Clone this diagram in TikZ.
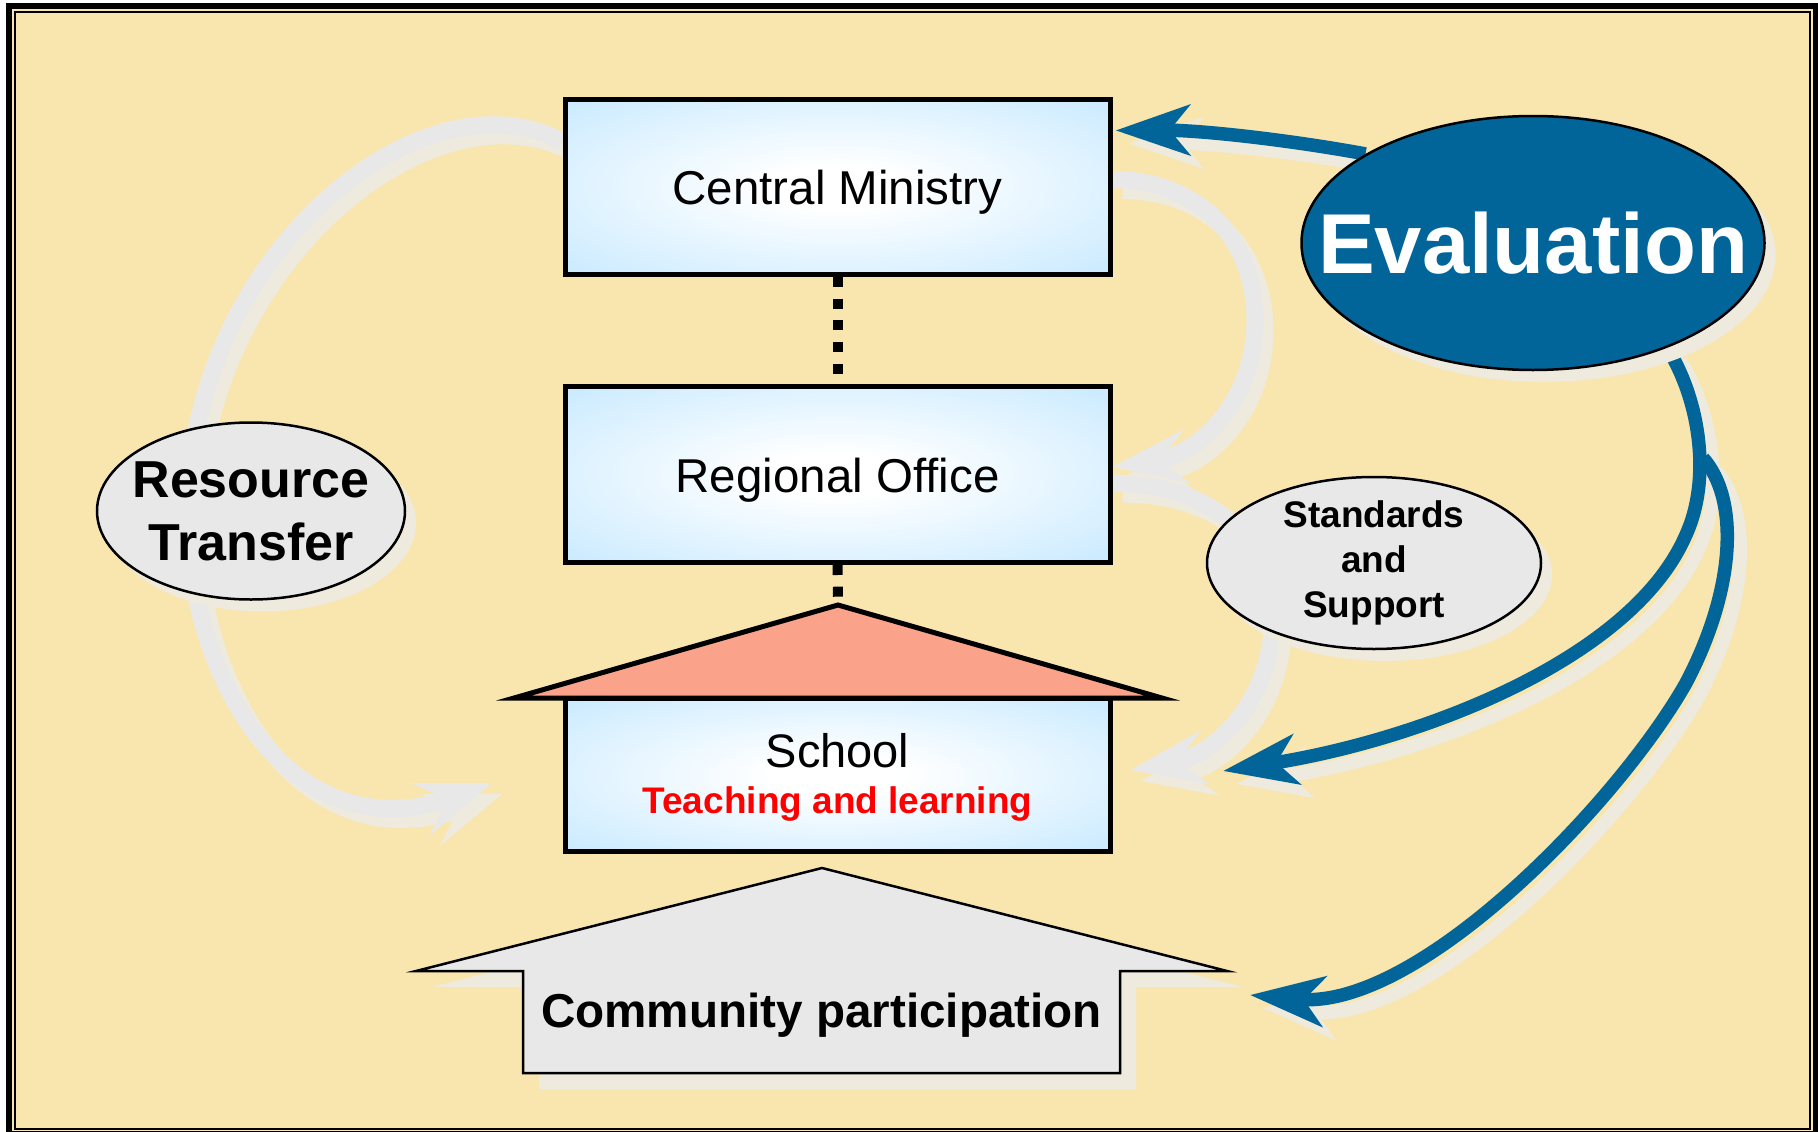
\documentclass[tikz,border=0pt]{standalone}
\usepackage{fontspec}
\setmainfont{Liberation Sans}
\usetikzlibrary{arrows.meta,shapes.geometric,shadows,calc}
\definecolor{bgy}{RGB}{249,230,175}
\definecolor{lb}{RGB}{204,235,255}
\definecolor{evb}{RGB}{2,101,153}
\definecolor{gr}{RGB}{232,232,232}
\definecolor{shd}{RGB}{238,234,221}
\definecolor{roofc}{RGB}{250,163,138}
\definecolor{tred}{RGB}{255,0,0}
\pgfdeclareradialshading{boxglow}{\pgfpoint{0bp}{0bp}}{color(0bp)=(white); color(6bp)=(white); color(34bp)=(lb); color(50bp)=(lb)}
\pgfdeclarelayer{under}
\pgfsetlayers{under,main}
\newcommand\grApath{(astart) .. controls (430,70) and (215,235) .. (190,470) .. controls (170,650) and (280,860) .. (atip)}
\newcommand\grBpath{(bstart) .. controls (1200,180) and (1255,240) .. (1255,320) .. controls (1255,400) and (1200,455) .. (bend)}
\newcommand\grCpath{(cstart) .. controls (1200,483) and (1265,530) .. (1272,600) .. controls (1280,690) and (1220,755) .. (ctip)}
\newcommand\blApath{(ev.152) .. controls (1290,140) and (1200,130) .. (eend)}
\newcommand\blBpath{(ev.-38) .. controls (1700,400) and (1712,480) .. (1685,537) .. controls (1630,660) and (1420,740) .. (btip)}
\newcommand\blCpath{(br) .. controls (1740,500) and (1735,590) .. (1686,683) .. controls (1620,800) and (1420,1010) .. (ctip2)}
\begin{document}
\begin{tikzpicture}[x=1pt,y=-1pt,
  box/.style={draw=black, line width=5pt, shade, shading=boxglow, minimum width=545pt,
    inner sep=0pt, text height=36pt, text depth=0pt, font=\fontsize{47.5}{57}\selectfont},
  ell/.style={ellipse, draw=black, line width=2.5pt, fill=gr, align=center,
    general shadow={fill=shd, shadow xshift=11pt, shadow yshift=-12pt}},
  dotline/.style={line width=10pt, dash pattern=on 10pt off 11.7pt},
  garrow/.style={line width=17pt, -{Stealth[length=75pt, width=54pt, inset=28pt]}},
  barrow/.style={line width=13.5pt, -{Stealth[length=74pt, width=50pt, inset=20pt]}}
]
\useasboundingbox (0,0) rectangle (1818,1132);
\begin{pgfonlayer}{under}
  \fill[white] (0,0) rectangle (1818,1132);
  \fill[black] (6,3) rectangle (1818,1132);
  \fill[bgy] (12,9) rectangle (1813,1130.5);
  \draw[line width=2pt, fill=bgy] (15,12) rectangle (1809.5,1129);
\end{pgfonlayer}

% roof
\coordinate (apex) at (838,605);
\draw[line width=5pt, fill=roofc] (514,698) -- (apex) -- (1162,698) -- cycle;

% boxes
\node[box, minimum height=175.5pt] (cm) at (837.5,186.75) {Central Ministry};
\node[box, minimum height=176pt] (ro) at (837.5,474.5) {Regional Office};
\node[box, minimum height=153pt] (sc) at (837.5,774.5) {};
\node[anchor=base, font=\fontsize{47}{56}\selectfont] (sct) at (837.5,767) {School};
\node[anchor=base, text=tred, font=\bfseries\fontsize{37}{44}\selectfont] (tl) at (837.5,813) {Teaching and learning};

% dotted links
\draw[dotline] (cm.south) -- (ro.north);
\draw[dotline] (ro.south) -- (apex);

% ellipses
\node[ell, minimum width=308pt, minimum height=177pt, inner xsep=-40pt, inner ysep=-30pt,
  font=\bfseries\fontsize{52}{63}\selectfont] (rt) at (251,511) {Resource\\Transfer};
\node[ell, minimum width=334pt, minimum height=172pt, inner sep=-20pt,
  font=\bfseries\fontsize{37}{45}\selectfont] (ss) at (1374,563) {Standards\\and\\Support};
\node[ellipse, draw=black, line width=2.5pt, fill=evb, text=white,
  general shadow={fill=shd, shadow xshift=11pt, shadow yshift=-12pt},
  minimum width=463pt, minimum height=254pt, inner xsep=-70pt, inner ysep=-20pt,
  font=\bfseries\fontsize{85}{100}\selectfont] (ev) at (1533,243) {Evaluation};

% community participation arrow
\draw[line width=2.5pt, fill=gr, general shadow={fill=shd, shadow xshift=16pt, shadow yshift=-16pt}]
  (523,1073) -- (523,971) -- (416,971) -- (822,868) -- (1227,971) -- (1120,971) -- (1120,1073) -- cycle;
\node[anchor=base, font=\bfseries\fontsize{47.6}{57}\selectfont] (cp) at (821.5,1027) {Community participation};

% connector end points
\coordinate (astart) at ($(cm.north west)!0.25!(cm.south west)$);
\coordinate (atip) at (492,783);
\coordinate (bstart) at ($(cm.north east)!0.46!(cm.south east)$);
\coordinate (bend) at ($(ro.north east)!0.457!(ro.south east)$);
\coordinate (cstart) at ($(ro.north east)!0.548!(ro.south east)$);
\coordinate (ctip) at ([shift={(18pt,4.5pt)}]sc.east);
\coordinate (eend) at ([shift={(3pt,0pt)}]$(cm.north east)!0.188!(cm.south east)$);
\coordinate (btip) at (1223,771);
\coordinate (br) at (1703,458);
\coordinate (ctip2) at (1250,995);

\begin{pgfonlayer}{under}
  \begin{scope}[transform canvas={shift={(10pt,-11pt)}}]
    \draw[garrow, shd] \grApath;
    \draw[garrow, shd] \grBpath;
    \draw[garrow, shd] \grCpath;
  \end{scope}
  \begin{scope}[transform canvas={shift={(13pt,-13pt)}}]
    \draw[barrow, shd] \blApath;
    \draw[barrow, shd] \blBpath;
    \draw[barrow, shd] \blCpath;
  \end{scope}
  \draw[garrow, gr] \grApath;
  \draw[garrow, gr] \grBpath;
  \draw[garrow, gr] \grCpath;
  \draw[barrow, evb] \blApath;
  \draw[barrow, evb] \blBpath;
  \draw[barrow, evb] \blCpath;
\end{pgfonlayer}
\end{tikzpicture}
\end{document}
